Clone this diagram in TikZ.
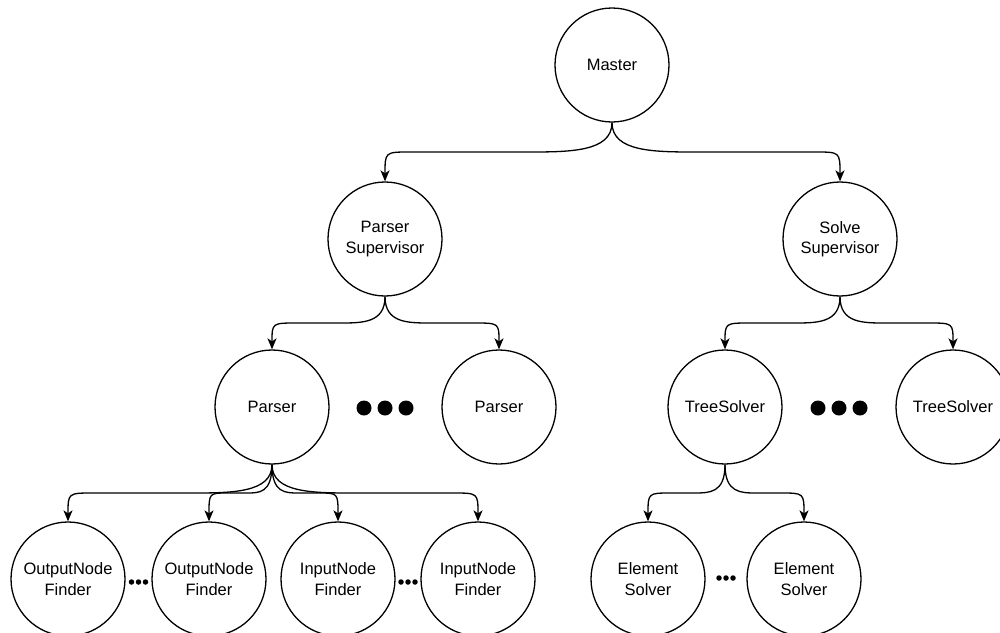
\documentclass[tikz,border=0pt]{standalone}
\usepackage{fontspec}
\setmainfont{Liberation Sans}
\usetikzlibrary{arrows.meta,calc}
\begin{document}
\begin{tikzpicture}[x=1pt,y=-1pt,
  cnode/.style={circle,draw,line width=1.3pt,minimum size=114pt,inner sep=0pt,align=center,font=\fontsize{16.5}{20.5}\selectfont},
  edge/.style={line width=1.3pt,-{Stealth[length=11pt,width=9pt,inset=3pt]}},
  bigdot/.style={circle,fill,inner sep=0pt,minimum size=15pt},
  smalldot/.style={circle,fill,inner sep=0pt,minimum size=5.5pt}]
\useasboundingbox (0,0) rectangle (1000,632);
\newcommand\tedge[2]{%
  \draw[edge] let \p1=(#1.south), \p2=(#2.north), \p3=($(\p1)!.5!(\p2)$),
    \n2={abs(\x2-\x1)}, \n3={sign(\x2-\x1)},
    \n4={min(85,0.4*\n2)}, \n5={min(25,0.3*\n2)} in
    (\p1) .. controls (\x1,\y3) and ({\x1+0.5*\n3*\n4},\y3) .. ({\x1+\n3*\n4},\y3)
    -- ({\x2-\n3*\n5},\y3) .. controls (\x2,\y3) .. (\p2);}
% nodes
\node[cnode] (m) at (612,65) {Master};
\node[cnode] (ps) at (385,239) {Parser\\Supervisor};
\node[cnode] (ss) at (840,239) {Solve\\Supervisor};
\node[cnode] (p1) at (272,407) {Parser};
\node[cnode] (p2) at (499,407) {Parser};
\node[cnode] (t1) at (725,407) {TreeSolver};
\node[cnode] (t2) at (953,407) {TreeSolver};
\node[cnode] (o1) at (68,579) {OutputNode\\Finder};
\node[cnode] (o2) at (209,579) {OutputNode\\Finder};
\node[cnode] (i1) at (338,579) {InputNode\\Finder};
\node[cnode] (i2) at (478,579) {InputNode\\Finder};
\node[cnode] (e1) at (648,579) {Element\\Solver};
\node[cnode] (e2) at (804,579) {Element\\Solver};
% big dots
\foreach \x [count=\i] in {364,385,406} \node[bigdot] (pd\i) at (\x,408) {};
\foreach \x [count=\i] in {818,839,860} \node[bigdot] (td\i) at (\x,408) {};
% small dots
\foreach \x [count=\i] in {131.5,138.5,145.5} \node[smalldot] (od\i) at (\x,582) {};
\foreach \x [count=\i] in {401,408,415} \node[smalldot] (id\i) at (\x,582) {};
\foreach \x [count=\i] in {719,726,733} \node[smalldot] (ed\i) at (\x,578) {};
% edges
\tedge{m}{ps}
\tedge{m}{ss}
\tedge{ps}{p1}
\tedge{ps}{p2}
\tedge{ss}{t1}
\tedge{ss}{t2}
\tedge{p1}{o1}
\tedge{p1}{o2}
\tedge{p1}{i1}
\tedge{p1}{i2}
\tedge{t1}{e1}
\tedge{t1}{e2}
\end{tikzpicture}
\end{document}
